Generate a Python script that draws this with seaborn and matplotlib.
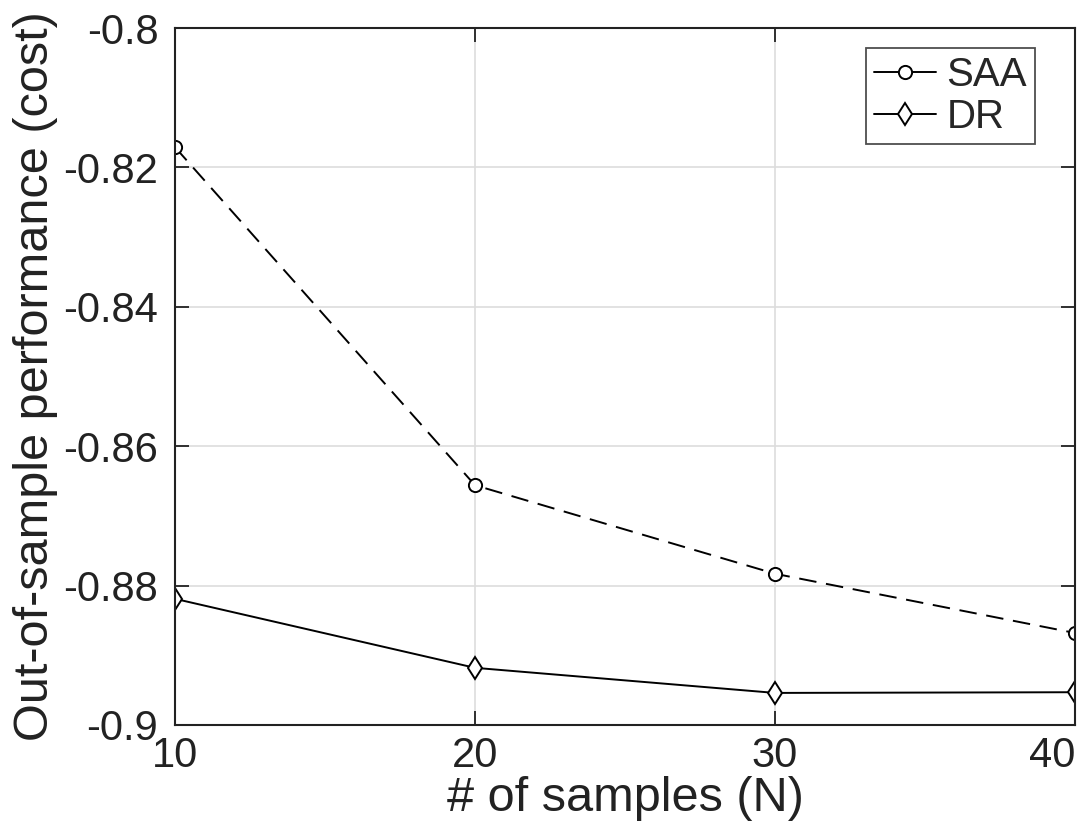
import matplotlib
matplotlib.use("Agg")
import matplotlib.pyplot as plt
import seaborn as sns
import pandas as pd

N = [10, 20, 30, 40]
saa = [-0.8171, -0.8656, -0.8783, -0.8868]
dr = [-0.8819, -0.8918, -0.8954, -0.8953]
xticks = [10, 20, 30, 40]
yticks = [-0.9, -0.88, -0.86, -0.84, -0.82, -0.8]
ytick_labels = ["-0.9", "-0.88", "-0.86", "-0.84", "-0.82", "-0.8"]

sns.set_theme(style="white")
plt.rcParams['font.family'] = ['Liberation Sans', 'DejaVu Sans']

df = pd.DataFrame({"N": N * 2, "val": saa + dr,
                   "method": ["SAA"] * 4 + ["DR"] * 4})

fig = plt.figure(figsize=(10.83, 8.39), dpi=100)
ax = fig.add_axes([0.1616, 0.1359, 0.831, 0.8307])

sns.lineplot(data=df[df.method == "SAA"], x="N", y="val", ax=ax, color="black",
             linestyle=(0, (9, 5)), linewidth=1.4, marker="o", markersize=9.5,
             markerfacecolor="white", markeredgecolor="black", markeredgewidth=1.4,
             label="SAA")
sns.lineplot(data=df[df.method == "DR"], x="N", y="val", ax=ax, color="black",
             linestyle="-", linewidth=1.4, marker="d", markersize=11.5,
             markerfacecolor="white", markeredgecolor="black", markeredgewidth=1.4,
             label="DR")

ax.set_xlim(10, 40)
ax.set_ylim(-0.9, -0.8)
ax.set_xticks(xticks)
ax.set_xticklabels([str(x) for x in xticks])
ax.set_yticks(yticks)
ax.set_yticklabels(ytick_labels)
ax.grid(True, color="#dddddd", linewidth=1.2)
ax.set_axisbelow(True)
for s in ax.spines.values():
    s.set_color("#222222")
    s.set_linewidth(1.5)
    s.set_visible(True)
ax.tick_params(direction="in", length=10, width=1.3, colors="#222222",
               labelsize=30, top=True, right=True, bottom=True, left=True, pad=8)
ax.tick_params(axis="y", pad=12)
last = ax.get_xticklabels()[-1]
last.set_horizontalalignment("right")
ax.set_xlabel("# of samples (N)", fontsize=35, color="#222222", labelpad=0)
ax.set_ylabel("Out-of-sample performance (cost)", fontsize=35, color="#222222", labelpad=4)

leg = ax.legend(loc="upper right", bbox_to_anchor=(0.9556, 0.9713), fontsize=29,
                frameon=True, fancybox=False, edgecolor="#222222",
                handlelength=1.55, handletextpad=0.25,
                borderpad=0.2, labelspacing=0.1, borderaxespad=0.0)
leg.get_frame().set_linewidth(1.3)
for line in leg.get_lines():
    line.set_linestyle("-")

fig.savefig("out.png", dpi=100)
